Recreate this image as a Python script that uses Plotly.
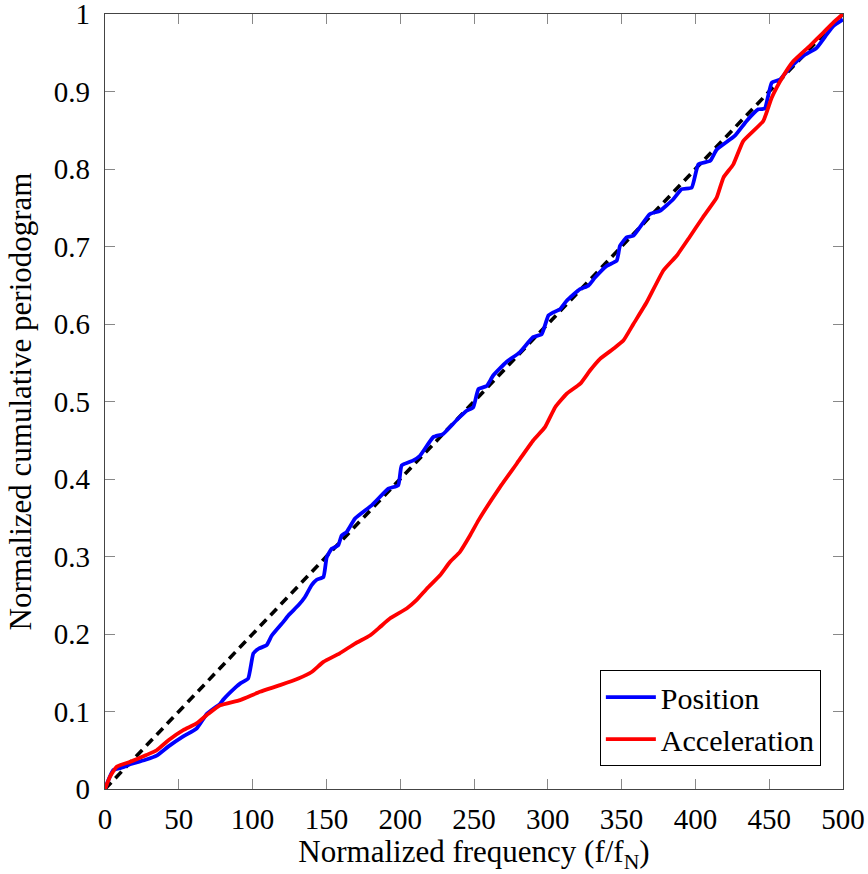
import plotly.graph_objects as go

# Cumulative periodogram of the position signal
pos_f = [0, 2, 5.6, 12.4, 17, 28, 35, 43, 53, 62, 69, 78, 80, 89, 91.5, 97, 100.5, 104,
         109.5, 113, 120.8, 124.2, 131, 135.5, 140, 143.4, 148, 150.2, 153.6, 158, 160.3,
         163.7, 169.4, 180.7, 192, 198.7, 201, 208.9, 213.4, 222.4, 229, 238, 245, 249.5,
         253, 258.6, 263, 272, 281, 290, 295.9, 300.4, 303.7, 308.3, 312.8, 321.8, 327.5,
         332, 339.9, 346.7, 348.9, 353.4, 358, 369, 376, 385, 390.7, 397.5, 402, 410,
         414.4, 426.8, 434.7, 442.6, 447, 451.7, 457.3, 464, 473, 482, 489, 493.4, 500]
pos_p = [0, 0.01, 0.0245, 0.028, 0.032, 0.038, 0.043, 0.055, 0.068, 0.078, 0.097, 0.11,
         0.115, 0.132, 0.136, 0.1426, 0.175, 0.181, 0.1856, 0.198, 0.2156, 0.224, 0.237,
         0.2477, 0.263, 0.27, 0.2736, 0.299, 0.31, 0.3144, 0.327, 0.3316, 0.349, 0.366,
         0.3875, 0.392, 0.4175, 0.424, 0.43, 0.454, 0.458, 0.4755, 0.488, 0.4925, 0.516,
         0.52, 0.5335, 0.551, 0.5635, 0.583, 0.587, 0.611, 0.615, 0.619, 0.63, 0.645,
         0.6495, 0.66, 0.675, 0.6817, 0.701, 0.7117, 0.714, 0.7417, 0.746, 0.761, 0.774,
         0.776, 0.806, 0.8105, 0.825, 0.843, 0.862, 0.877, 0.878, 0.9114, 0.9155, 0.9305,
         0.946, 0.956, 0.9737, 0.9845, 0.993]

# Cumulative periodogram of the acceleration signal
acc_f = [0, 3.4, 7.9, 17, 28, 35, 43, 53, 62, 70, 78, 91.5, 105, 118.6, 131, 140, 148,
         159, 169.4, 179.5, 186.3, 193, 204.4, 211, 218, 227, 233.7, 240.5, 247.3, 253,
         267.6, 279, 290.2, 298.1, 305, 312.8, 322, 328.6, 335.4, 344.4, 351.2, 358, 367,
         378.3, 387.3, 396, 405, 414.4, 419, 425.7, 432.4, 446, 451.7, 459.5, 466.3, 477.6,
         486.7, 493.4, 500]
acc_p = [0, 0.016, 0.0287, 0.035, 0.0438, 0.05, 0.063, 0.076, 0.0846, 0.097, 0.108,
         0.1147, 0.1254, 0.134, 0.1426, 0.151, 0.164, 0.175, 0.1877, 0.198, 0.209, 0.22,
         0.2329, 0.2436, 0.2584, 0.2758, 0.293, 0.306, 0.327, 0.3466, 0.3896, 0.42, 0.45,
         0.4669, 0.4926, 0.51, 0.523, 0.54, 0.555, 0.568, 0.5786, 0.6, 0.628, 0.669, 0.688,
         0.712, 0.7375, 0.763, 0.789, 0.806, 0.836, 0.862, 0.892, 0.92, 0.939, 0.959, 0.976,
         0.989, 1.0]

# White-noise reference line
ref_f = [0, 500]
ref_p = [0, 1]

x_ticks = [0, 50, 100, 150, 200, 250, 300, 350, 400, 450, 500]
y_ticks = [0, 0.1, 0.2, 0.3, 0.4, 0.5, 0.6, 0.7, 0.8, 0.9, 1]
y_ticktext = ["0", "0.1", "0.2", "0.3", "0.4", "0.5", "0.6", "0.7", "0.8", "0.9", "1"]

FONT = "Liberation Serif"

fig = go.Figure()
fig.add_trace(go.Scatter(x=ref_f, y=ref_p, mode="lines", showlegend=False,
                         line=dict(color="black", width=3.6, dash="9px,6px")))
fig.add_trace(go.Scatter(x=pos_f, y=pos_p, mode="lines", name="Position",
                         line=dict(color="#0000ff", width=3.8, shape="spline", smoothing=0.4)))
fig.add_trace(go.Scatter(x=acc_f, y=acc_p, mode="lines", name="Acceleration",
                         line=dict(color="#ff0000", width=3.8, shape="spline", smoothing=0.4)))

axis_common = dict(
    showgrid=False, zeroline=False, showline=True, linecolor="#444", linewidth=1.2,
    mirror="ticks", ticks="inside", ticklen=10, tickwidth=1, tickcolor="#888",
    automargin=False, ticklabeloverflow="allow",
    tickfont=dict(family=FONT, size=29, color="black"),
)

fig.update_layout(
    width=868, height=874,
    margin=dict(l=105, r=25, t=14, b=85),
    paper_bgcolor="white", plot_bgcolor="white",
    font=dict(family=FONT, size=29, color="black"),
    xaxis=dict(range=[0, 500], tickvals=x_ticks, ticklabelstandoff=4,
               title=dict(text="Normalized frequency (f/f<sub>N</sub>)",
                          font=dict(family=FONT, size=31), standoff=6),
               **axis_common),
    yaxis=dict(range=[0, 1], tickvals=y_ticks, ticktext=y_ticktext, ticklabelstandoff=8,
               title=dict(text="Normalized cumulative periodogram",
                          font=dict(family=FONT, size=31), standoff=12),
               **axis_common),
    legend=dict(x=0.970, y=0.0296, xanchor="right", yanchor="bottom",
                bordercolor="black", borderwidth=1, bgcolor="white",
                itemwidth=50,
                font=dict(family=FONT, size=30), tracegroupgap=0),
)

fig.write_html("out.html")
